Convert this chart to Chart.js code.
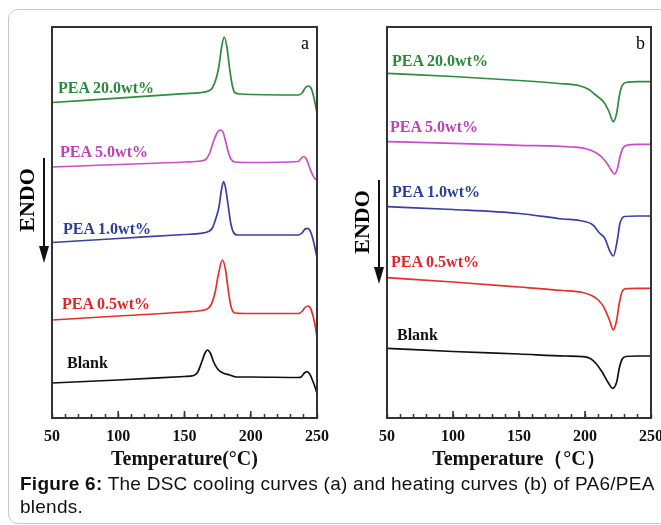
<!DOCTYPE html>
<html>
<head>
<meta charset="utf-8">
<script src="https://cdn.jsdelivr.net/npm/chart.js@4.4.0/dist/chart.umd.min.js"></script>
<style>
  body { margin: 0; background: #fff; width: 661px; height: 525px; overflow: hidden; position: relative; font-family: "Liberation Serif", serif; }
  #card { position: absolute; left: 8px; top: 9px; width: 720px; height: 513px; border: 1px solid #c9c9c9; border-radius: 10px; }
  canvas { position: absolute; top: 0; }
  .lbl { position: absolute; font: bold 16px "Liberation Serif", serif; line-height: 16px; white-space: nowrap; }
  .endo { position: absolute; font: bold 22px "Liberation Serif", serif; line-height: 22px; transform: translate(-50%, -50%) rotate(-90deg); white-space: nowrap; }
  .pan { position: absolute; font: 18px "Liberation Serif", serif; line-height: 18px; }
  #caption { position: absolute; left: 20px; top: 472px; font: 19px "Liberation Sans", Arial, sans-serif; letter-spacing: 0.25px; line-height: 23px; color: #111; white-space: nowrap; }
  svg { position: absolute; left: 0; top: 0; }
</style>
</head>
<body>
<div id="card"></div>
<canvas id="chartA" width="345" height="475" style="left:0"></canvas>
<canvas id="chartB" width="331" height="475" style="left:330px"></canvas>

<svg width="661" height="525">
  <line x1="44" y1="158" x2="44" y2="250" stroke="#111" stroke-width="2"/>
  <polygon points="39,246 49,246 44,263" fill="#111"/>
  <line x1="379" y1="180" x2="379" y2="271" stroke="#111" stroke-width="2"/>
  <polygon points="374,267 384,267 379,284" fill="#111"/>
</svg>

<div class="endo" style="left:27px; top:200px">ENDO</div>
<div class="endo" style="left:362px; top:222px">ENDO</div>
<div class="pan" style="left:301px; top:34px">a</div>
<div class="pan" style="left:636px; top:34px">b</div>

<div class="lbl" style="left:58px; top:80px; color:#2a8a3a">PEA 20.0wt%</div>
<div class="lbl" style="left:60px; top:144px; color:#c040b8">PEA 5.0wt%</div>
<div class="lbl" style="left:63px; top:221px; color:#2c3d9a">PEA 1.0wt%</div>
<div class="lbl" style="left:62px; top:296px; color:#e0262a">PEA 0.5wt%</div>
<div class="lbl" style="left:67px; top:355px; color:#111">Blank</div>

<div class="lbl" style="left:392px; top:53px; color:#2a8a3a">PEA 20.0wt%</div>
<div class="lbl" style="left:390px; top:119px; color:#c040b8">PEA 5.0wt%</div>
<div class="lbl" style="left:392px; top:184px; color:#2c3d9a">PEA 1.0wt%</div>
<div class="lbl" style="left:391px; top:254px; color:#e0262a">PEA 0.5wt%</div>
<div class="lbl" style="left:397px; top:327px; color:#111">Blank</div>

<div id="caption"><b>Figure 6:</b> The DSC cooling curves (a) and heating curves (b) of PA6/PEA<br>blends.</div>

<script>
// (a) cooling curves - temperatura e fluxo de calor (u.a., curvas deslocadas)
var tA20 = [50, 100, 150, 162, 168, 171, 174, 176, 178, 180, 182, 184, 186, 188, 192, 236, 239, 241, 243.5, 245.5, 247, 248.5, 250];
var hA20 = [315.5, 319.9, 324.3, 325.3, 327, 330, 340, 352, 371, 381, 371, 350, 333, 325.5, 324, 323, 325.5, 330, 332, 330, 324, 315, 305];

var tA5 = [50, 100, 150, 162, 166, 169, 172, 175, 177, 179, 181, 183, 185, 188, 200, 236, 238, 240, 242, 244, 246, 248, 250];
var hA5 = [251, 253.5, 256, 257, 258.5, 265, 277, 286, 288, 286, 277, 266, 259, 256, 255.5, 256.5, 259.5, 261.5, 259, 252, 245, 240, 238];

var tA1 = [50, 100, 150, 162, 168, 171, 174, 176, 178, 179.5, 181, 183, 185, 187, 190, 236, 239, 241, 242.6, 244.5, 246.5, 248.5, 250];
var hA1 = [175.5, 179.5, 183.5, 184.7, 186.5, 190, 201, 211, 229, 236.3, 230, 212, 194, 185.5, 183, 183, 185.5, 189, 189.7, 188, 181, 170, 160];

var tA05 = [50, 100, 150, 163, 167, 170, 173, 175.5, 178.5, 181, 183, 185, 188, 195, 236, 239, 241, 243, 245, 247, 248.5, 250];
var hA05 = [98, 102, 106, 107.5, 109, 113, 125, 143, 158, 148, 128, 112, 105, 104.5, 104.5, 107, 110.5, 112, 110, 102, 93, 81];

var tA0 = [50, 100, 150, 157, 160, 163, 165.5, 167.2, 169.5, 172, 175, 179, 184, 189, 200, 236, 238, 240.5, 242.3, 244.5, 246.5, 248.5, 250];
var hA0 = [35, 38, 41.5, 42.5, 46, 56, 65, 68, 65, 56, 49, 45, 43, 41, 41, 40.5, 41, 45, 46.3, 44, 38, 31, 24.7];

// (b) heating curves
var tB20 = [50, 100, 150, 180, 195, 203, 208, 214, 218, 221.5, 224, 226, 228, 231, 240, 250];
var hB20 = [344.7, 341.5, 337.5, 334.5, 332.5, 328.5, 323, 316.3, 307, 296.3, 305, 322, 332, 335.5, 336.3, 336.3];

var tB5 = [50, 100, 150, 190, 200, 208, 213, 217, 220, 222.3, 224.5, 226.5, 228.5, 232, 240, 250];
var hB5 = [276.3, 274.7, 272.7, 271, 269.5, 265.5, 260.5, 254, 247.5, 244, 249, 261, 269.5, 273, 273.7, 273.7];

var tB1 = [50, 100, 150, 183, 196, 206, 211, 215, 219, 221.5, 224.5, 226.5, 230, 240, 250];
var hB1 = [211.3, 208.5, 204.5, 199, 197.5, 193, 185, 179.7, 166.3, 162, 178, 194.7, 201.5, 202, 202];

var tB05 = [50, 100, 150, 183, 198, 205, 210, 214, 218.5, 221.5, 224, 226, 228, 231, 240, 250];
var hB05 = [140.3, 136, 131, 127.5, 125.5, 122.5, 118, 111.3, 98, 88, 98, 115, 126, 129.3, 129.7, 129.7];

var tB0 = [50, 100, 150, 185, 199, 204, 208, 213, 217.5, 221, 224, 226, 228, 231, 240, 250];
var hB0 = [69.7, 66.5, 64, 62, 61.3, 59.5, 55, 46, 35.5, 29.7, 36, 50, 58.5, 61.5, 62, 62];

var nomes = ['PEA 20.0wt%', 'PEA 5.0wt%', 'PEA 1.0wt%', 'PEA 0.5wt%', 'Blank'];
var cores = ['#2e8b3e', '#c84fc8', '#3a3fa0', '#e23030', '#111111'];
var ticksMaiores = [50, 100, 150, 200, 250];

function pares(t, h) {
    var lista = [];
    for (var i = 0; i < t.length; i++) {
        lista.push({ x: t[i], y: h[i] });
    }
    return lista;
}

// moldura do grafico + ticks maiores
var moldura = {
    id: 'moldura',
    afterDraw: function (chart) {
        var ctx = chart.ctx;
        var a = chart.chartArea;
        var x = chart.scales.x;
        ctx.save();
        ctx.strokeStyle = '#333';
        ctx.lineWidth = 2;
        ctx.strokeRect(a.left, a.top, a.right - a.left, a.bottom - a.top);
        ctx.beginPath();
        ctx.lineWidth = 1.6;
        ticksMaiores.forEach(function (v) {
            var px = x.getPixelForValue(v);
            ctx.moveTo(px, a.bottom);
            ctx.lineTo(px, a.bottom - 7);
        });
        ctx.stroke();
        ctx.restore();
    }
};

function plotarPainel(id, series, titulo, padEsq, padDir) {
    var datasets = [];
    for (var i = 0; i < series.length; i++) {
        datasets.push({
            label: nomes[i],
            data: pares(series[i][0], series[i][1]),
            borderColor: cores[i],
            borderWidth: 1.7,
            pointRadius: 0,
            fill: false,
            cubicInterpolationMode: 'monotone'
        });
    }

    return new Chart(document.getElementById(id), {
        type: 'line',
        data: { datasets: datasets },
        options: {
            responsive: false,
            animation: false,
            devicePixelRatio: 1,
            layout: { padding: { left: padEsq, right: padDir, top: 27, bottom: 0 } },
            plugins: { legend: { display: false }, tooltip: { enabled: false } },
            scales: {
                x: {
                    type: 'linear',
                    min: 50,
                    max: 250,
                    border: { display: false },
                    grid: { drawOnChartArea: false, drawTicks: true, tickLength: -4, tickColor: '#333', tickWidth: 1.5 },
                    ticks: {
                        stepSize: 10,
                        autoSkip: false,
                        maxRotation: 0,
                        padding: 13,
                        color: '#111',
                        font: { family: '"Liberation Serif", serif', size: 16, weight: 'bold' },
                        callback: function (v) { return v % 50 === 0 ? v : ''; }
                    },
                    title: {
                        display: true,
                        text: titulo,
                        color: '#111',
                        padding: { top: 0, bottom: 3 },
                        font: { family: '"Liberation Serif", serif', size: 20, weight: 'bold' }
                    },
                    afterFit: function (scale) {
                        scale.height = 57;
                        scale.paddingLeft = 0;
                        scale.paddingRight = 0;
                    }
                },
                y: { display: false, min: 0, max: 391 }
            }
        },
        plugins: [moldura]
    });
}

plotarPainel('chartA', [[tA20, hA20], [tA5, hA5], [tA1, hA1], [tA05, hA05], [tA0, hA0]], 'Temperature(°C)', 52, 28);
plotarPainel('chartB', [[tB20, hB20], [tB5, hB5], [tB1, hB1], [tB05, hB05], [tB0, hB0]], 'Temperature（°C）', 57, 10);
</script>
</body>
</html>
